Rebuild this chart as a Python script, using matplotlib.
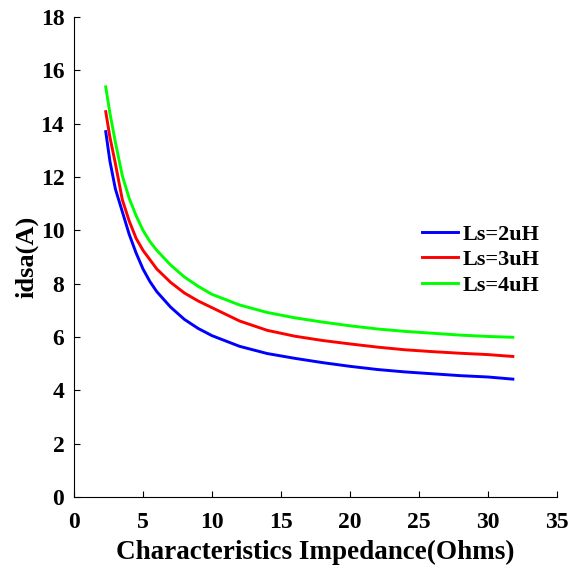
import matplotlib
matplotlib.use("Agg")
import matplotlib.pyplot as plt

x = [2.3, 2.6, 3, 3.5, 4, 4.5, 5, 5.5, 6, 7, 8, 9, 10, 12, 14, 16, 18, 20, 22, 24, 26, 28, 30, 31.8]
ls_2uH = [13.7, 12.6, 11.55, 10.7, 9.85, 9.15, 8.55, 8.08, 7.7, 7.12, 6.66, 6.32, 6.05, 5.65, 5.38, 5.2, 5.04, 4.9, 4.78, 4.69, 4.62, 4.55, 4.5, 4.42]
ls_3uH = [14.45, 13.5, 12.5, 11.15, 10.35, 9.7, 9.25, 8.9, 8.55, 8.05, 7.65, 7.35, 7.1, 6.6, 6.25, 6.03, 5.87, 5.74, 5.62, 5.52, 5.45, 5.39, 5.34, 5.27]
ls_4uH = [15.38, 14.4, 13.3, 12.05, 11.2, 10.55, 10.0, 9.58, 9.25, 8.7, 8.25, 7.9, 7.6, 7.2, 6.92, 6.72, 6.56, 6.42, 6.3, 6.21, 6.14, 6.07, 6.02, 5.99]
labels = ["Ls=2uH", "Ls=3uH", "Ls=4uH"]
colors = ["#0000ff", "#ff0000", "#00ff00"]

plt.rcParams['font.family'] = ['Liberation Serif', 'DejaVu Serif']
plt.rcParams['font.weight'] = 'bold'

fig = plt.figure(figsize=(5.69, 5.69), dpi=100)
ax = fig.add_axes([74/569, 1-497/569, 483/569, 480/569])

for ys, lab, c in zip([ls_2uH, ls_3uH, ls_4uH], labels, colors):
    ax.plot(x, ys, color=c, lw=2.1, label=lab)

ax.set_xlim(0, 35)
ax.set_ylim(0, 18)
ax.set_xticks(range(0, 36, 5))
ax.set_yticks(range(0, 19, 2))
ax.spines['top'].set_visible(False)
ax.spines['right'].set_visible(False)
for s in ['left', 'bottom']:
    ax.spines[s].set_linewidth(0.8)
ax.tick_params(direction='in', length=4, width=0.8, labelsize=17, pad=7)
ax.tick_params(axis='x', pad=11)
for lab in ax.get_xticklabels() + ax.get_yticklabels():
    lab.set_fontweight('bold')

ax.set_xlabel("Characteristics Impedance(Ohms)", fontsize=19.5, fontweight='bold', labelpad=5)
ax.set_ylabel("idsa(A)", fontsize=19, fontweight='bold', labelpad=1.5)

leg = ax.legend(loc='center left', bbox_to_anchor=(0.68, 0.494), frameon=False,
                prop={'weight': 'bold', 'size': 16}, handlelength=1.6,
                handletextpad=0.2, labelspacing=0.22)

fig.savefig("out.png", dpi=100)
